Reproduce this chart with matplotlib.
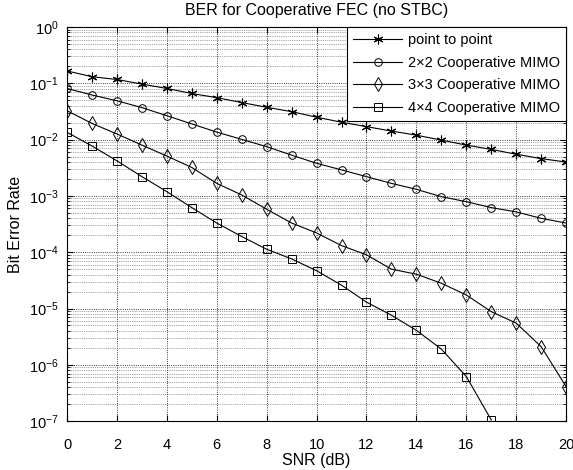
import numpy as np
import matplotlib
matplotlib.use("Agg")
import matplotlib.pyplot as plt
from matplotlib.ticker import LogLocator, NullFormatter

plt.rcParams['font.family'] = ['Liberation Sans', 'DejaVu Sans']

snr = list(range(21))

ber_p2p = [0.166, 0.131, 0.117, 0.097, 0.081, 0.066, 0.0556, 0.0456, 0.0375, 0.0314,
           0.025, 0.0204, 0.017, 0.0142, 0.012, 0.0098, 0.0080, 0.0067, 0.0055, 0.0046, 0.0040]
ber_2x2 = [0.081, 0.062, 0.049, 0.037, 0.0266, 0.019, 0.0136, 0.0101, 0.0075, 0.0053,
           0.0038, 0.0029, 0.0022, 0.00167, 0.00131, 0.00097, 0.00079, 0.00062, 0.00052, 0.0004, 0.00033]
ber_3x3 = [0.0326, 0.0194, 0.0126, 0.0080, 0.0051, 0.0032, 0.00167, 0.00104, 0.00058, 0.00033,
           0.00022, 0.000131, 9.0e-5, 5.0e-5, 4.07e-5, 2.81e-5, 1.74e-5, 8.8e-6, 5.5e-6, 2.1e-6, 4.1e-7]
snr_4x4 = list(range(18))
ber_4x4 = [0.0135, 0.0077, 0.0042, 0.0022, 0.00119, 0.00062, 0.00033, 0.00019, 0.000113, 7.6e-5,
           4.7e-5, 2.6e-5, 1.3e-5, 7.6e-6, 4.1e-6, 1.9e-6, 6.2e-7, 1.05e-7]

labels = ['point to point', '2\u00d72 Cooperative MIMO', '3\u00d73 Cooperative MIMO', '4\u00d74 Cooperative MIMO']

fig = plt.figure(figsize=(5.73, 4.70), dpi=100)
ax = fig.add_axes([0.117, 0.104, 0.871, 0.8385])

asterisk = (6, 2, 0)
ax.semilogy(snr, ber_p2p, '-', color='k', lw=0.8, marker=asterisk, ms=7, mew=0.8, label=labels[0])
ax.semilogy(snr, ber_2x2, '-', color='k', lw=0.8, marker='o', ms=5.5, mfc='none', mew=0.7, label=labels[1])
ax.semilogy(snr, ber_3x3, '-', color='k', lw=0.8, marker='d', ms=7, mfc='none', mew=0.7, label=labels[2])
ax.semilogy(snr_4x4, ber_4x4, '-', color='k', lw=0.8, marker='s', ms=5.5, mfc='none', mew=0.7, label=labels[3])

ax.set_xlim(0, 20)
ax.set_ylim(1e-7, 1)
ax.set_xticks(range(0, 21, 2))
ax.yaxis.set_major_locator(LogLocator(base=10, numticks=10))
ax.yaxis.set_minor_locator(LogLocator(base=10, subs=np.arange(2, 10), numticks=20))
ax.yaxis.set_minor_formatter(NullFormatter())

ax.grid(True, which='major', linestyle=':', color='k', lw=0.6)
ax.grid(True, which='minor', axis='y', linestyle=':', color='0.3', lw=0.5)
ax.tick_params(direction='in', top=True, right=True, labelsize=10.5, length=4)
ax.tick_params(axis='x', pad=12)
ax.tick_params(axis='y', pad=6)
ax.tick_params(which='minor', direction='in', right=True, length=2)
for s in ax.spines.values():
    s.set_linewidth(0.8)

ax.set_xlabel('SNR (dB)', fontsize=11.5)
ax.xaxis.set_label_coords(0.5, -0.082)
ax.set_ylabel('Bit Error Rate', fontsize=11.5, labelpad=4)
ax.set_title('BER for Cooperative FEC (no STBC)', fontsize=11.5, pad=9)

leg = ax.legend(loc='upper right', fontsize=10.5, frameon=True, fancybox=False,
                edgecolor='k', framealpha=1, borderaxespad=0, handlelength=3.4,
                labelspacing=0.6, borderpad=0.4, handletextpad=0.4)
leg.get_frame().set_linewidth(0.8)

fig.savefig('out.png', dpi=100)
